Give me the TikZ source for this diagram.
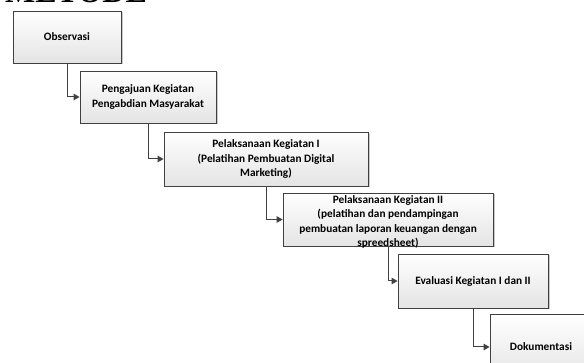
\documentclass[tikz,border=0pt]{standalone}
\usepackage{fontspec}
\setmainfont{Carlito}
\newfontfamily\titlefont{Liberation Serif}
\usetikzlibrary{arrows.meta}
\definecolor{edge}{HTML}{404040}
\definecolor{boxbot}{HTML}{E4E4E4}
\definecolor{shadowc}{HTML}{C8C8C8}
\tikzset{
  boxfont/.style={font=\bfseries\fontsize{11.3}{14.2}\selectfont},
  stepbox/.style={draw=edge, line width=0.8pt, top color=white, bottom color=boxbot,
    align=center, inner sep=0pt, boxfont,
    preaction={fill=shadowc, transform canvas={shift={(1.5pt,-1.5pt)}}}},
  steplabel/.style={align=center, inner sep=0pt, boxfont},
  conn/.style={draw=edge, line width=1pt, -{Triangle[length=6pt,width=6.5pt]}}
}
\begin{document}
\begin{tikzpicture}[x=1pt,y=-1pt]
\useasboundingbox (0,0) rectangle (584,363);
\fill[white] (0,0) rectangle (584,363);
\node[anchor=base west, inner sep=0pt, font=\titlefont\bfseries\fontsize{32}{32}\selectfont] (title) at (5,3) {METODE};
\node[stepbox, minimum width=108pt, minimum height=52pt] (b1) at (67,37) {Observasi};
\node[stepbox, minimum width=136pt, minimum height=52pt] (b2) at (148,97) {Pengajuan Kegiatan\\Pengabdian Masyarakat};
\node[stepbox, minimum width=204pt, minimum height=54pt] (b3) at (266,159) {Pelaksanaan Kegiatan I\\(Pelatihan Pembuatan Digital\\Marketing)};
\node[stepbox, minimum width=210pt, minimum height=53pt] (b4) at (388,219.5) {};
\node[steplabel] (b4t) at ([yshift=-2.5pt]b4.center) {Pelaksanaan Kegiatan II\\(pelatihan dan pendampingan\\pembuatan laporan keuangan dengan\\spreedsheet)};
\node[stepbox, minimum width=150pt, minimum height=54pt] (b5) at (473,281) {Evaluasi Kegiatan I dan II};
\node[stepbox, minimum width=102pt, minimum height=66pt] (b6) at (541,347) {Dokumentasi};
\draw[conn] (b1.south) |- (b2.west);
\draw[conn] (b2.south) |- (b3.west);
\draw[conn] (b3.south) |- (b4.west);
\draw[conn] (b4.south) |- (b5.west);
\draw[conn] (b5.south) |- (b6.west);
\end{tikzpicture}
\end{document}
